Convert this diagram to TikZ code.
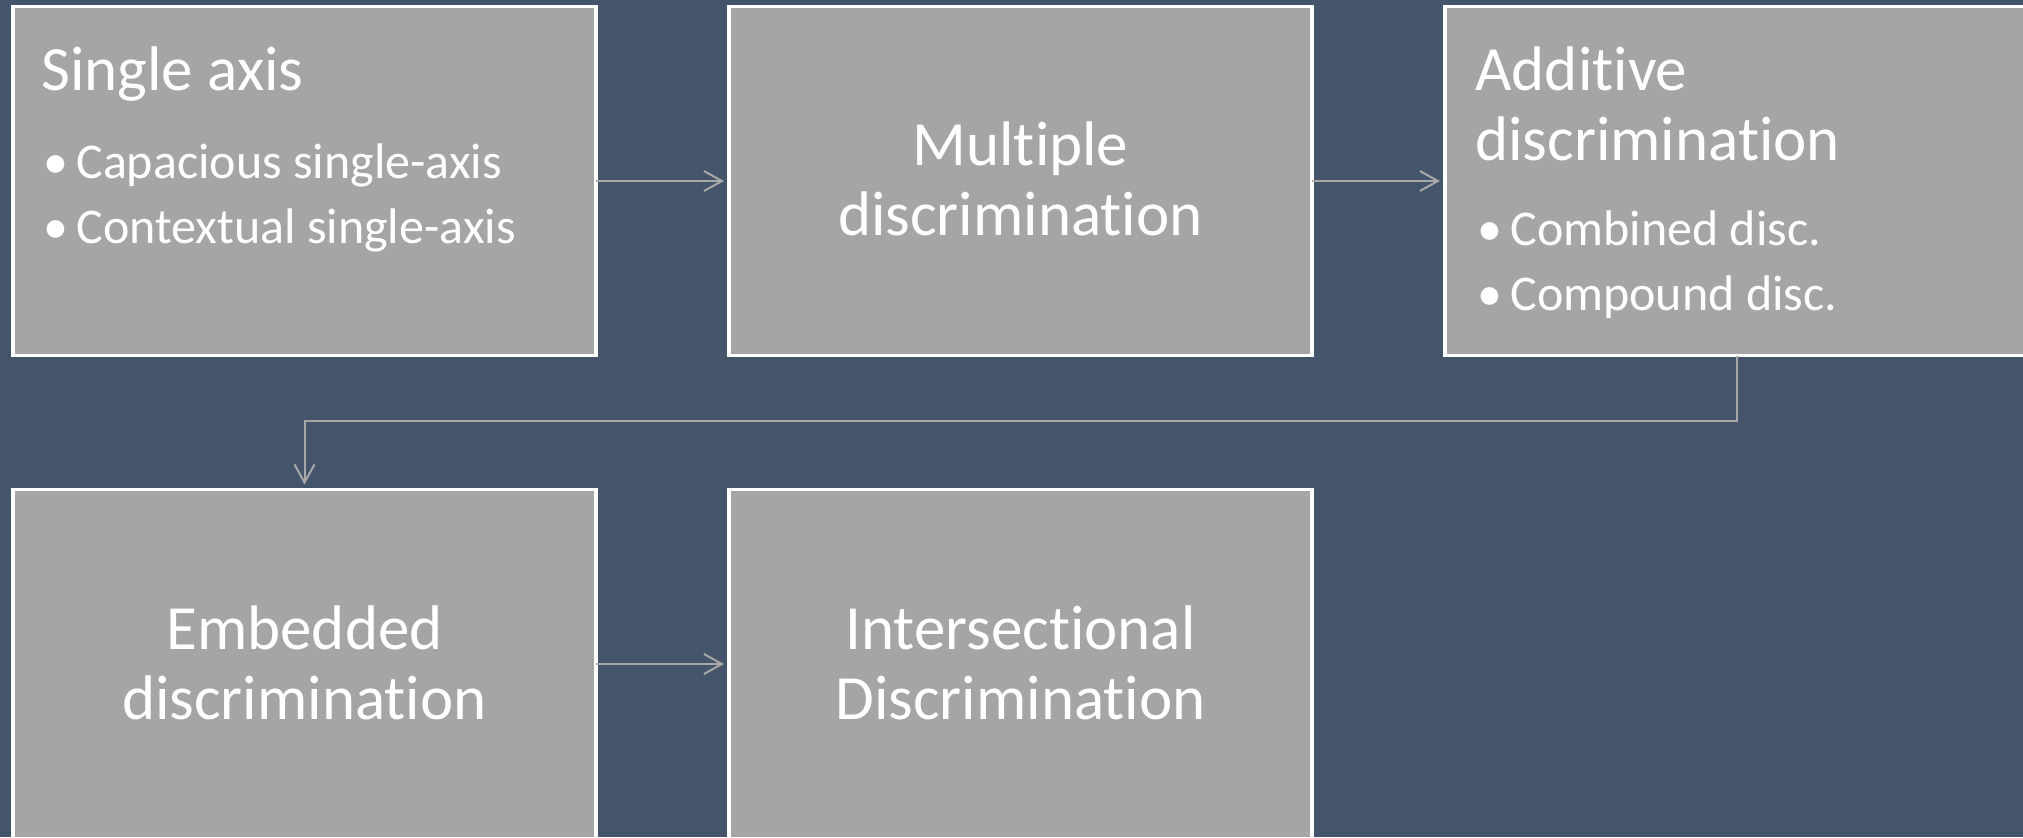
\documentclass[tikz,border=0pt]{standalone}
\usepackage{fontspec}
\setmainfont{Carlito}[Ligatures={NoCommon}]
\usetikzlibrary{arrows.meta}
\definecolor{bg}{HTML}{44546A}
\definecolor{boxfill}{HTML}{A5A5A5}
\definecolor{conn}{HTML}{A8A8A8}
\begin{document}
\begin{tikzpicture}[x=0.5pt,y=-0.5pt,
 box/.style={draw=white,line width=1.6pt,fill=boxfill,minimum width=291.5pt,minimum height=174.5pt,inner sep=0pt,outer sep=0pt},
 big/.style={text=white,font=\fontsize{31.5pt}{35pt}\selectfont,inner sep=0pt},
 small/.style={text=white,font=\fontsize{25pt}{30pt}\selectfont,inner sep=0pt},
 link/.style={draw=conn,line width=1pt,-{Straight Barb[length=9pt,width=10pt]},shorten >=2.5pt}]
\useasboundingbox (0,0) rectangle (2023,837);
\fill[bg] (0,0) rectangle (2023,837);
\node[box] (b1) at (304.5,181) {};
\node[box] (b2) at (1020.5,181) {};
\node[box] (b3) at (1736.5,181) {};
\node[box] (b4) at (304.5,664) {};
\node[box] (b5) at (1020.5,664) {};
% box 1
\node[big,anchor=base west] (t1) at (41,90) {Single axis};
\node[small,anchor=base west] (t1a) at (43,178) {\makebox[16.5pt][l]{•}Capacious single-axis};
\node[small,anchor=base west] (t1b) at (43,243) {\makebox[16.5pt][l]{•}Contextual single-axis};
% box 2
\node[big,anchor=base] (t2a) at (1020.5,165) {Multiple};
\node[big,anchor=base] (t2b) at (1020.5,235) {discrimination};
% box 3
\node[big,anchor=base west] (t3a) at (1475,90) {Additive};
\node[big,anchor=base west] (t3b) at (1475,160) {discrimination};
\node[small,anchor=base west] (t3c) at (1477,245) {\makebox[16.5pt][l]{•}Combined disc.};
\node[small,anchor=base west] (t3d) at (1477,310) {\makebox[16.5pt][l]{•}Compound disc.};
% box 4
\node[big,anchor=base] (t4a) at (304.5,649) {Embedded};
\node[big,anchor=base] (t4b) at (304.5,719) {discrimination};
% box 5
\node[big,anchor=base] (t5a) at (1020.5,649) {Intersectional};
\node[big,anchor=base] (t5b) at (1020.5,719) {Discrimination};
% connectors
\draw[link] (b1.east) -- (b2.west);
\draw[link] (b2.east) -- (b3.west);
\draw[link] (b3.south) -- ++(0,65) -| (b4.north);
\draw[link] (b4.east) -- (b5.west);
\end{tikzpicture}
\end{document}
